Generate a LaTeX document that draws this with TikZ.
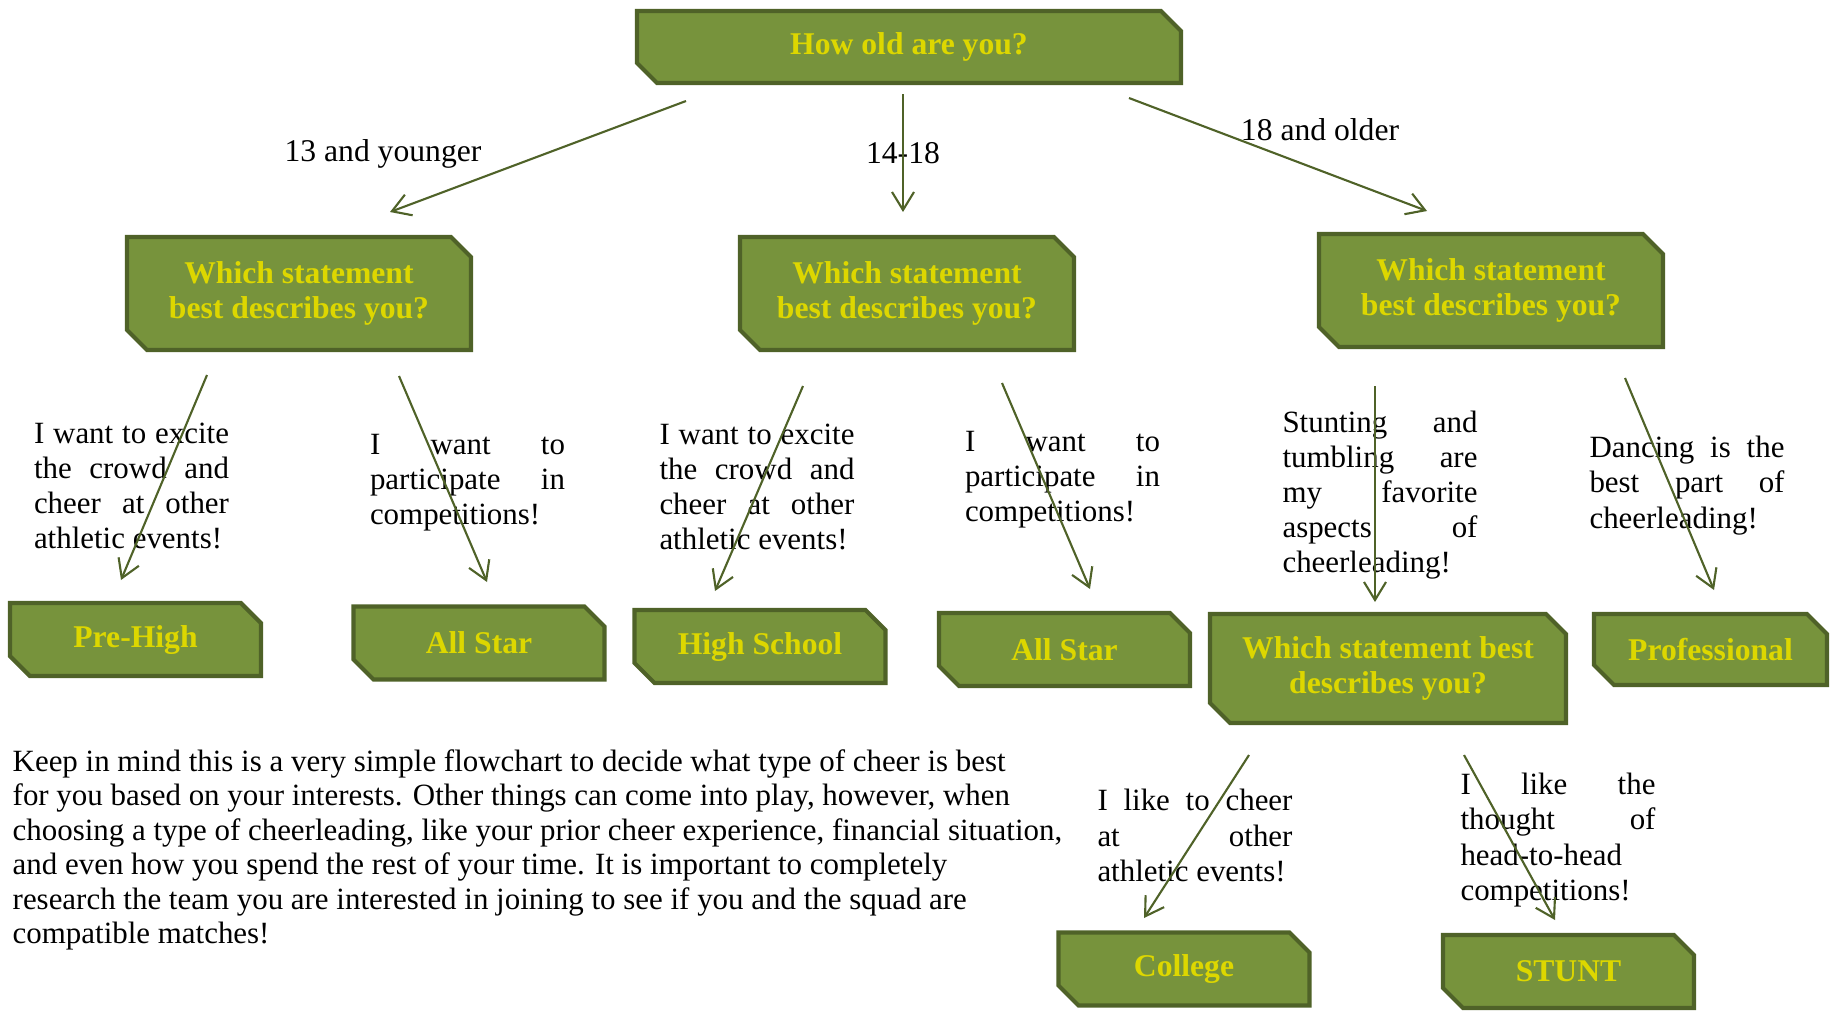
\documentclass[tikz,border=0pt]{standalone}
\usepackage{fontspec}
\setmainfont{Liberation Serif}
\usepackage{tikz}
\usetikzlibrary{arrows.meta,shapes.misc}
\definecolor{olivefill}{HTML}{77933C}
\definecolor{olivedark}{HTML}{4F6228}
\definecolor{cheeryellow}{HTML}{DDD700}
\tikzstyle{box} = [chamfered rectangle, chamfered rectangle corners={north east,south west}, chamfered rectangle xsep=0.1cm, chamfered rectangle ysep=0.1cm, inner sep=0pt, draw=olivedark, line width=1.2pt, fill=olivefill, text=cheeryellow, font=\fontsize{9}{10}\selectfont\bfseries, align=center]
\tikzstyle{question} = [box, minimum width=3.44cm, minimum height=1.13cm]
\tikzstyle{result} = [box, minimum width=2.51cm, minimum height=0.73cm]
\tikzstyle{statement} = [text width=1.95cm, align=justify, inner sep=0pt, font=\fontsize{8.8}{10}\selectfont, execute at begin node={\tolerance=10000\relax}]
\tikzstyle{agelabel} = [inner sep=0pt, font=\fontsize{9}{10}\selectfont]
\tikzstyle{arrow} = [line width=0.6pt, draw=olivedark, -{Straight Barb[length=1.8mm,width=2.2mm]}]

\begin{document}
\begin{tikzpicture}[node distance=2cm]
\useasboundingbox (0,0) rectangle (18.36,-10.12);

\node (age) [box, minimum width=5.44cm, minimum height=0.72cm] at (9.09,-0.47) {How old are you?};

\node (young) [question, below of=age, xshift=-6.1cm, yshift=-0.465cm] {Which statement\\best describes you?};
\node (teen) [question, minimum width=3.34cm, below of=age, xshift=-0.02cm, yshift=-0.465cm] {Which statement\\best describes you?};
\node (adult) [question, below of=age, xshift=5.82cm, yshift=-0.435cm] {Which statement\\best describes you?};

\node (lyoung) [agelabel] at (3.83,-1.54) {13 and younger};
\node (lteen) [agelabel] at (9.03,-1.53) {14-18};
\node (ladult) [agelabel] at (13.2,-1.3) {18 and older};

\coordinate (ys) at (6.86,-1.01);
\coordinate (ye) at (3.9,-2.12);
\coordinate (ts) at (9.03,-0.94);
\coordinate (te) at (9.03,-2.12);
\coordinate (as) at (11.29,-0.98);
\coordinate (ae) at (14.27,-2.11);
\draw [arrow] (ys) -- (ye);
\draw [arrow] (ts) -- (te);
\draw [arrow] (as) -- (ae);

\node (prehigh) [result, below of=young, xshift=-1.635cm, yshift=-1.46cm] {Pre-High};
\node (allstara) [result, below of=young, xshift=1.8cm, yshift=-1.495cm] {All Star};
\node (highschool) [result, below of=teen, xshift=-1.47cm, yshift=-1.53cm] {High School};
\node (allstarb) [result, below of=teen, xshift=1.575cm, yshift=-1.56cm] {All Star};
\node (skills) [question, minimum width=3.56cm, minimum height=1.09cm, below of=adult, xshift=-1.03cm, yshift=-1.78cm] {Which statement best\\describes you?};
\node (pro) [result, minimum width=2.33cm, minimum height=0.71cm, below of=adult, xshift=2.195cm, yshift=-1.59cm] {Professional};
\node (college) [result, below of=skills, xshift=-2.04cm, yshift=-1.005cm] {College};
\node (stunt) [result, below of=skills, xshift=1.805cm, yshift=-1.03cm] {STUNT};

\node (excitea) [statement] at (1.315,-4.86) {I want to excite\linebreak the crowd and\linebreak cheer at other\linebreak athletic events!};
\node (competea) [statement] at (4.675,-4.83) {I want to\linebreak participate in\linebreak competitions!};
\node (exciteb) [statement] at (7.57,-4.87) {I want to excite\linebreak the crowd and\linebreak cheer at other\linebreak athletic events!};
\node (competeb) [statement] at (10.625,-4.795) {I want to\linebreak participate in\linebreak competitions!};
\node (stunting) [statement] at (13.8,-4.95) {Stunting and\linebreak tumbling are\linebreak my favorite\linebreak aspects of\linebreak cheerleading!};
\node (dancing) [statement] at (16.87,-4.855) {Dancing is the\linebreak best part of\linebreak cheerleading!};
\node (cheering) [statement] at (11.95,-8.355) {I like to cheer\linebreak at other\linebreak athletic events!};
\node (headhead) [statement] at (15.58,-8.4) {I like the\linebreak thought of\linebreak head-to-head\linebreak competitions!};

\coordinate (p1) at (2.07,-3.75);
\coordinate (p2) at (1.21,-5.8);
\coordinate (q1) at (3.99,-3.76);
\coordinate (q2) at (4.87,-5.82);
\coordinate (h1) at (8.03,-3.86);
\coordinate (h2) at (7.15,-5.91);
\coordinate (r1) at (10.02,-3.83);
\coordinate (r2) at (10.9,-5.89);
\coordinate (w1) at (13.75,-3.86);
\coordinate (w2) at (13.75,-6.02);
\coordinate (d1) at (16.25,-3.78);
\coordinate (d2) at (17.14,-5.9);
\coordinate (c1) at (12.49,-7.55);
\coordinate (c2) at (11.44,-9.18);
\coordinate (u1) at (14.64,-7.55);
\coordinate (u2) at (15.55,-9.2);
\draw [arrow] (p1) -- (p2);
\draw [arrow] (q1) -- (q2);
\draw [arrow] (h1) -- (h2);
\draw [arrow] (r1) -- (r2);
\draw [arrow] (w1) -- (w2);
\draw [arrow] (d1) -- (d2);
\draw [arrow] (c1) -- (c2);
\draw [arrow] (u1) -- (u2);

%\node (note) [anchor=north west] at (0.12,-7.5) {...};
\node (note) [anchor=west, align=left, inner sep=0pt, font=\fontsize{8.8}{9.8}\selectfont] at (0.12,-8.5) {Keep in mind this is a very simple flowchart to decide what type of cheer is best\\for you based on your interests. Other things can come into play, however, when\\choosing a type of cheerleading, like your prior cheer experience, financial situation,\\and even how you spend the rest of your time. It is important to completely\\research the team you are interested in joining to see if you and the squad are\\compatible matches!};

\end{tikzpicture}
\end{document}
